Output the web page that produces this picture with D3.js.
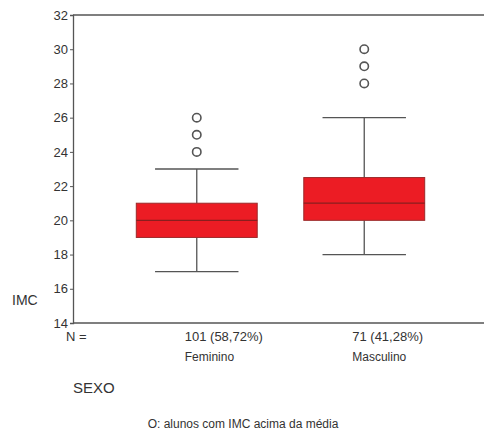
<!DOCTYPE html>
<html>
<head>
<meta charset="utf-8">
<script src="https://cdn.jsdelivr.net/npm/d3@7"></script>
<style>
  body { margin: 0; background: #fff; }
  svg { display: block; font-family: "Liberation Sans", Arial, sans-serif; }
</style>
</head>
<body>
<div id="chart"></div>
<script>
// categories and their labels
const categories = ["Feminino", "Masculino"];
const nLabels = ["101 (58,72%)", "71 (41,28%)"];

// box statistics per category
const mins = [17, 18];
const q1s = [19, 20];
const medians = [20, 21];
const q3s = [21, 22.5];
const maxs = [23, 26];
const outliers = [[24, 25, 26], [28, 29, 30]];

const yTicks = [14, 16, 18, 20, 22, 24, 26, 28, 30, 32];

const W = 484, H = 433;
const margin = {top: 15, right: 0, bottom: 110, left: 73};

const svg = d3.select("#chart").append("svg")
  .attr("width", W).attr("height", H);

const x = d3.scaleBand()
  .domain(categories)
  .range([margin.left + 2, W + 2])
  .paddingInner(0.278)
  .paddingOuter(0.366);

const y = d3.scaleLinear()
  .domain([14, 32])
  .range([323, margin.top]);

const axisColor = "#555";
const textColor = "#333";

// top frame line
svg.append("line")
  .attr("x1", margin.left).attr("x2", W)
  .attr("y1", y(32)).attr("y2", y(32))
  .attr("stroke", axisColor).attr("stroke-width", 1.3);

// bottom axis line
svg.append("line")
  .attr("x1", margin.left).attr("x2", W)
  .attr("y1", y(14)).attr("y2", y(14))
  .attr("stroke", axisColor).attr("stroke-width", 1.5);

// y axis
const yAxis = svg.append("g")
  .attr("transform", "translate(" + margin.left + ",0)")
  .call(d3.axisLeft(y).tickValues(yTicks).tickSize(3).tickPadding(2).tickFormat(d3.format("d")));
yAxis.select(".domain").attr("stroke", axisColor).attr("stroke-width", 1.3);
yAxis.selectAll(".tick line").attr("stroke", axisColor);
yAxis.selectAll(".tick text")
  .attr("fill", textColor).attr("font-size", 13)
  .attr("font-family", "Liberation Sans, Arial, sans-serif");

const data = categories.map((c, i) => ({
  cat: c, min: mins[i], q1: q1s[i], med: medians[i], q3: q3s[i], max: maxs[i], out: outliers[i], n: nLabels[i]
}));

const bw = x.bandwidth();
const capW = bw * 0.69;

const g = svg.selectAll(".box").data(data).enter().append("g");

// whiskers
g.append("line")
  .attr("x1", d => x(d.cat) + bw / 2).attr("x2", d => x(d.cat) + bw / 2)
  .attr("y1", d => y(d.max)).attr("y2", d => y(d.q3))
  .attr("stroke", axisColor).attr("stroke-width", 1.3);
g.append("line")
  .attr("x1", d => x(d.cat) + bw / 2).attr("x2", d => x(d.cat) + bw / 2)
  .attr("y1", d => y(d.q1)).attr("y2", d => y(d.min))
  .attr("stroke", axisColor).attr("stroke-width", 1.3);
// caps
g.append("line")
  .attr("x1", d => x(d.cat) + bw / 2 - capW / 2).attr("x2", d => x(d.cat) + bw / 2 + capW / 2)
  .attr("y1", d => y(d.max)).attr("y2", d => y(d.max))
  .attr("stroke", axisColor).attr("stroke-width", 1.3);
g.append("line")
  .attr("x1", d => x(d.cat) + bw / 2 - capW / 2).attr("x2", d => x(d.cat) + bw / 2 + capW / 2)
  .attr("y1", d => y(d.min)).attr("y2", d => y(d.min))
  .attr("stroke", axisColor).attr("stroke-width", 1.3);

// boxes
g.append("rect")
  .attr("x", d => x(d.cat)).attr("width", bw)
  .attr("y", d => y(d.q3)).attr("height", d => y(d.q1) - y(d.q3))
  .attr("fill", "#ec1c24").attr("stroke", "#9b2a2a").attr("stroke-width", 1);

// medians
g.append("line")
  .attr("x1", d => x(d.cat)).attr("x2", d => x(d.cat) + bw)
  .attr("y1", d => y(d.med)).attr("y2", d => y(d.med))
  .attr("stroke", "#8a1e1e").attr("stroke-width", 1.2);

// outliers
g.selectAll(".out").data(d => d.out.map(v => ({cat: d.cat, v: v}))).enter()
  .append("circle")
  .attr("cx", d => x(d.cat) + bw / 2).attr("cy", d => y(d.v))
  .attr("r", 4.2).attr("fill", "none")
  .attr("stroke", "#555").attr("stroke-width", 1.6);

// N labels and category names
svg.append("text").attr("x", 66).attr("y", 341)
  .attr("font-size", 13).attr("fill", textColor).text("N =");
g.append("text")
  .attr("x", d => x(d.cat) + bw / 2 - 12).attr("y", 341)
  .attr("font-size", 13).attr("fill", textColor).text(d => d.n);
g.append("text")
  .attr("x", d => x(d.cat) + bw / 2 - 12).attr("y", 361)
  .attr("font-size", 12).attr("fill", textColor).text(d => d.cat);

// axis titles
svg.append("text").attr("x", 12).attr("y", 305)
  .attr("font-size", 14).attr("fill", textColor).text("IMC");
svg.append("text").attr("x", 73).attr("y", 393)
  .attr("font-size", 15).attr("fill", textColor).text("SEXO");

// note
svg.append("text").attr("x", 243).attr("y", 428)
  .attr("text-anchor", "middle")
  .attr("font-size", 12).attr("fill", textColor)
  .text("O: alunos com IMC acima da média");
</script>
</body>
</html>
